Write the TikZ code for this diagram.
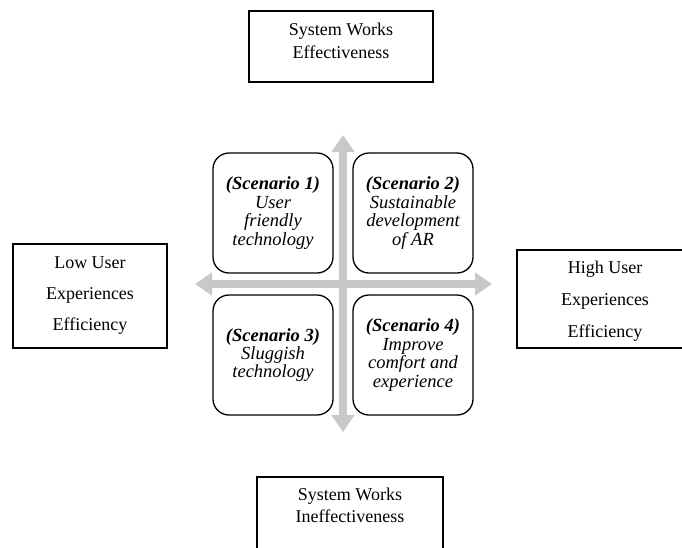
\documentclass[tikz,border=0pt]{standalone}
\usepackage{fontspec}
\setmainfont{Liberation Serif}
\usetikzlibrary{arrows.meta}
\definecolor{axisgray}{RGB}{200,200,200}
\tikzset{
  outerbox/.style={draw=black, line width=1.5pt, minimum width=#1, inner sep=0pt},
  boxtext/.style={anchor=base, align=center, inner sep=0pt},
  scenbox/.style={draw=black, line width=1.3pt, rounded corners=16pt,
    minimum width=120pt, minimum height=120pt, inner sep=0pt, align=center,
    font=\fontsize{18.5}{18.4}\selectfont\itshape},
  axis/.style={draw=axisgray, line width=8pt,
    arrows={Triangle[length=17pt,width=22pt]-Triangle[length=17pt,width=22pt]}}
}
\begin{document}
\begin{tikzpicture}[x=1pt, y=-1pt]
\useasboundingbox (0,0) rectangle (682,547);
\clip (0,0) rectangle (682,547);

% axes
\coordinate (axtop) at (343,135);
\coordinate (axbot) at (343,432);
\coordinate (axleft) at (195,284);
\coordinate (axright) at (492,284);
\draw[axis] (axtop) -- (axbot);
\draw[axis] (axleft) -- (axright);

% four scenarios
\node[scenbox] (s1) at (273,213) {\textbf{(Scenario 1)}\\User\\friendly\\technology};
\node[scenbox] (s2) at (413,213) {\textbf{(Scenario 2)}\\Sustainable\\development\\of AR};
\node[scenbox] (s3) at (273,355) {\textbf{(Scenario 3)}\\Sluggish\\technology};
\node[scenbox] (s4) at (413,355) {\textbf{(Scenario 4)}\\Improve\\comfort and\\experience};

% outer labels (text placed by the baseline of its last line)
\node[outerbox=184pt, minimum height=71pt] (topbox) at (341,46.5) {};
\node[boxtext, font=\fontsize{18}{23}\selectfont] (toptext) at (341,58) {System Works\\Effectiveness};

\node[outerbox=186pt, minimum height=90pt] (botbox) at (350,522) {};
\node[boxtext, font=\fontsize{18}{22}\selectfont] (bottext) at (350,522) {System Works\\Ineffectiveness};

\node[outerbox=154pt, minimum height=104pt] (leftbox) at (90,296) {};
\node[boxtext, font=\fontsize{18}{31}\selectfont] (lefttext) at (90,330) {Low User\\Experiences\\Efficiency};

\node[outerbox=176pt, minimum height=98pt] (rightbox) at (605,299) {};
\node[boxtext, font=\fontsize{18}{32}\selectfont] (righttext) at (605,337) {High User\\Experiences\\Efficiency};
\end{tikzpicture}
\end{document}
